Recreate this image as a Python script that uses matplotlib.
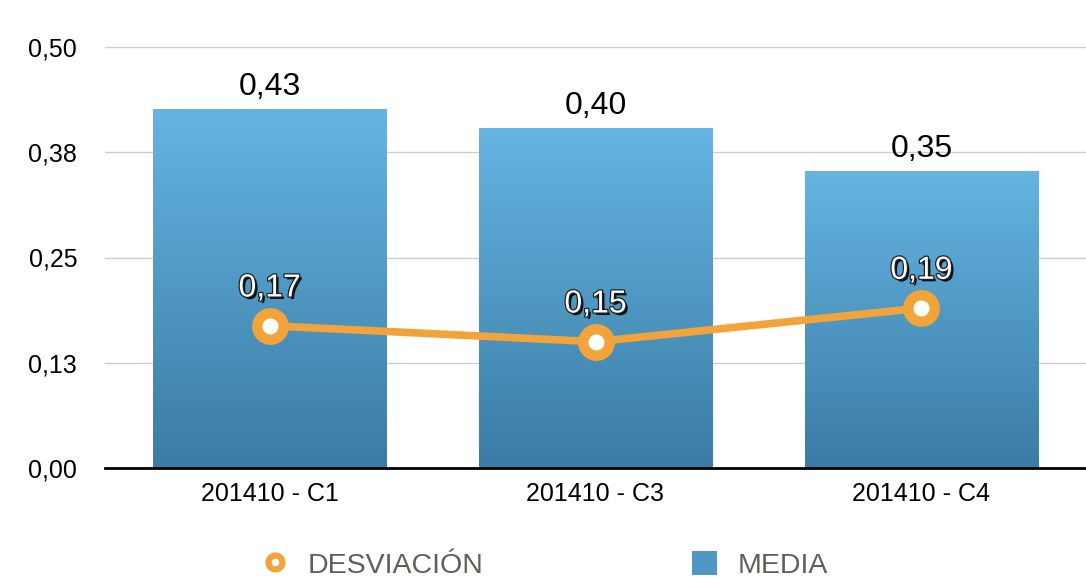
import numpy as np
import matplotlib
matplotlib.use("Agg")
import matplotlib.pyplot as plt
import matplotlib.patheffects as pe
from matplotlib.colors import LinearSegmentedColormap
from matplotlib.lines import Line2D
from matplotlib.patches import Patch

plt.rcParams['font.family'] = ['Liberation Sans', 'DejaVu Sans']

# datos
categorias = ["201410 - C1", "201410 - C3", "201410 - C4"]
media = [0.426, 0.404, 0.353]
desviacion = [0.169, 0.150, 0.190]
media_labels = ["0,43", "0,40", "0,35"]
desv_labels = ["0,17", "0,15", "0,19"]
yticks = [0.0, 0.125, 0.25, 0.375, 0.5]
ytick_labels = ["0,00", "0,13", "0,25", "0,38", "0,50"]

naranja = "#f2a43a"
azul_top = "#65b4e2"
azul_bot = "#3a7ca4"

fig = plt.figure(figsize=(10.86, 5.78), dpi=100)
ax = fig.add_axes([105 / 1086, 1 - 468 / 578, 1 - 105 / 1086, 421 / 578])

x = np.arange(len(categorias))
bars = ax.bar(x, media, width=0.715, color=azul_bot, zorder=2)

# degradado vertical en cada barra
cmap = LinearSegmentedColormap.from_list("azul", [azul_bot, azul_top])
grad = np.linspace(0, 1, 256).reshape(-1, 1)
for b in bars:
    x0, y0 = b.get_x(), b.get_y()
    w, h = b.get_width(), b.get_height()
    im = ax.imshow(grad, cmap=cmap, origin="lower", aspect="auto",
                   extent=[x0, x0 + w, y0, y0 + h], zorder=2.1)
    im.set_clip_path(b)

for xi, v, lab in zip(x, media, media_labels):
    ax.annotate(lab, (xi, v), xytext=(0, 5), textcoords="offset points",
                ha="center", va="bottom", fontsize=23, color="black")

ax.plot(x, desviacion, color=naranja, lw=5.5, marker="o", ms=19,
        mfc="white", mec=naranja, mew=7.5, zorder=4, solid_capstyle="round")

sombra = [pe.SimplePatchShadow(offset=(1.8, -1.8), shadow_rgbFace="black", alpha=0.9),
          pe.Stroke(linewidth=1.8, foreground="#202020"), pe.Normal()]
for xi, v, lab in zip(x, desviacion, desv_labels):
    ax.annotate(lab, (xi, v), xytext=(0, 16), textcoords="offset points",
                ha="center", va="bottom", fontsize=23, color="white",
                path_effects=sombra, zorder=5)

ax.set_xlim(-0.505, 2.505)
ax.set_ylim(0, 0.5)
ax.set_yticks(yticks)
ax.set_yticklabels(ytick_labels)
ax.set_xticks(x)
ax.set_xticklabels(categorias)
ax.tick_params(axis="y", length=0, pad=20, labelsize=18)
ax.tick_params(axis="x", length=0, pad=10, labelsize=18)
ax.grid(axis="y", color="#cccccc", lw=1, zorder=0)
for s in ["top", "right", "left"]:
    ax.spines[s].set_visible(False)
ax.spines["bottom"].set_linewidth(2)
ax.spines["bottom"].set_zorder(6)
ax.set_axisbelow(True)

handles = [Line2D([], [], ls="none", marker="o", ms=10, mfc="white", mec=naranja, mew=4.5),
           Patch(facecolor="#4f98c6")]
leg = fig.legend(handles, ["DESVIACIÓN", "MEDIA"], loc="center", ncol=2,
                 bbox_to_anchor=(0.502, 0.022), frameon=False, fontsize=20.5,
                 labelcolor="#606058", columnspacing=7.3, handlelength=0.9,
                 handleheight=0.9, handletextpad=0.7)

fig.savefig("out.png", dpi=100)
